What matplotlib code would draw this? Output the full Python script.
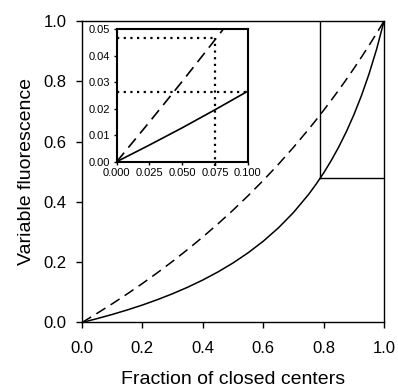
import matplotlib
matplotlib.use('Agg')
import matplotlib.pyplot as plt

plt.rcParams['font.family'] = ['Liberation Sans', 'DejaVu Sans']

# main panel: variable fluorescence vs fraction of closed centers
fraction = [0.0, 0.05, 0.1, 0.15, 0.2, 0.25, 0.3, 0.35, 0.4, 0.45, 0.5, 0.55,
            0.6, 0.65, 0.7, 0.75, 0.775, 0.8, 0.825, 0.85, 0.875, 0.9, 0.925,
            0.95, 0.975, 1.0]
solid_vf = [0.0, 0.0128, 0.0266, 0.0416, 0.0579, 0.0758, 0.0954, 0.117,
            0.1409, 0.1676, 0.1974, 0.2312, 0.2695, 0.3136, 0.3647, 0.4246,
            0.4587, 0.496, 0.537, 0.5823, 0.6326, 0.6889, 0.7521, 0.8238,
            0.9056, 1.0]
dashed_vf = [0.0, 0.0303, 0.0619, 0.0949, 0.1293, 0.1653, 0.2029, 0.2423,
             0.2837, 0.3271, 0.3726, 0.4206, 0.4712, 0.5245, 0.5809, 0.6405,
             0.6718, 0.7038, 0.737, 0.771, 0.806, 0.8424, 0.88, 0.9186,
             0.9587, 1.0]

# marked point on the solid curve
mark_x = 0.788
mark_y = 0.478

# inset: initial part of the curves
inset_fraction = [0.0, 0.025, 0.05, 0.075, 0.1]
inset_solid = [0.0, 0.0063, 0.0128, 0.0196, 0.0266]
inset_dashed = [0.0, 0.015, 0.0303, 0.046, 0.0619]
guide_x = 0.075
guide_y_dashed = 0.0466
guide_y_solid = 0.0262

fig = plt.figure(figsize=(3.98, 3.89), dpi=100)
ax = fig.add_axes([0.206, 0.171, 0.759, 0.775])

ax.plot(fraction, solid_vf, color='black', lw=1.1)
ax.plot(fraction, dashed_vf, color='black', lw=1.1, dashes=(7, 4))
ax.plot([mark_x, mark_x], [mark_y, 1.0], color='black', lw=1.0)
ax.plot([mark_x, 1.0], [mark_y, mark_y], color='black', lw=1.0)

ax.set_xlim(0, 1)
ax.set_ylim(0, 1)
ax.set_xticks([0.0, 0.2, 0.4, 0.6, 0.8, 1.0])
ax.set_yticks([0.0, 0.2, 0.4, 0.6, 0.8, 1.0])
ax.tick_params(direction='out', length=4.3, width=1.0, labelsize=12)
ax.tick_params(axis='x', pad=9)
ax.tick_params(axis='y', pad=7)
for s in ax.spines.values():
    s.set_linewidth(1.0)
ax.set_xlabel('Fraction of closed centers', fontsize=14, labelpad=11)
ax.set_ylabel('Variable fluorescence', fontsize=14, labelpad=6)

# inset
ins = fig.add_axes([0.2932, 0.5843, 0.3291, 0.3404])
ins.plot(inset_fraction, inset_solid, color='black', lw=1.2)
ins.plot(inset_fraction, inset_dashed, color='black', lw=1.2, dashes=(7, 4))
ins.plot([0, guide_x], [guide_y_dashed, guide_y_dashed], color='black',
         lw=1.6, ls=(0, (1, 2)))
ins.plot([0, 0.1], [guide_y_solid, guide_y_solid], color='black',
         lw=1.6, ls=(0, (1, 2)))
ins.plot([guide_x, guide_x], [-0.0015, guide_y_dashed], color='black',
         lw=1.6, ls=(0, (1, 2)), clip_on=False)
ins.set_xlim(0, 0.1)
ins.set_ylim(0, 0.05)
ins.set_xticks([0.0, 0.025, 0.05, 0.075, 0.1])
ins.set_xticklabels(['0.000', '0.025', '0.050', '0.075', '0.100'])
ins.set_yticks([0.0, 0.01, 0.02, 0.03, 0.04, 0.05])
ins.set_yticklabels(['0.00', '0.01', '0.02', '0.03', '0.04', '0.05'])
ins.tick_params(direction='out', length=2.5, width=1.0, labelsize=8, pad=2)
for s in ins.spines.values():
    s.set_linewidth(1.5)

fig.savefig('out.png', dpi=100)
